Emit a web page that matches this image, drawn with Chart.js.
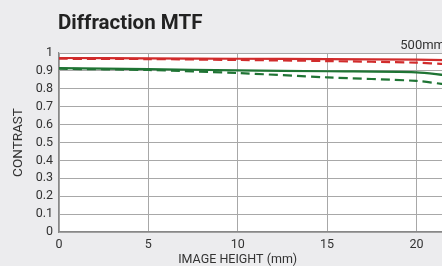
<!DOCTYPE html>
<html>
<head>
<meta charset="utf-8">
<script src="https://cdn.jsdelivr.net/npm/chart.js@4"></script>
<style>
  html, body { margin: 0; padding: 0; background: #ececee; overflow: hidden; }
  #wrap { width: 442px; height: 266px; overflow: hidden; position: relative; }
  canvas { display: block; }
</style>
</head>
<body>
<div id="wrap"><canvas id="chart_plot" width="460" height="266"></canvas></div>
<script>
// image height (mm)
const imageHeight = [0, 5, 10, 15, 20, 21.6];
const xTicks = [0, 5, 10, 15, 20];

// contrast values
const redSolid   = [0.972, 0.970, 0.968, 0.966, 0.963, 0.960];
const redDashed  = [0.968, 0.966, 0.961, 0.955, 0.946, 0.938];
const greenSolid = [0.916, 0.910, 0.903, 0.898, 0.892, 0.876];
const greenDashed= [0.912, 0.905, 0.888, 0.864, 0.844, 0.825];

const RED = '#d12c2c';
const GREEN = '#1f7434';

function pts(vals) {
    return vals.map(function(v, i) { return { x: imageHeight[i], y: v }; });
}

// white plot area + extra texts
const decor = {
    id: 'decor',
    beforeDraw: function(chart) {
        const ctx = chart.ctx, a = chart.chartArea;
        ctx.save();
        ctx.fillStyle = '#ffffff';
        ctx.fillRect(a.left, a.top, a.right - a.left, a.bottom - a.top);
        ctx.restore();
    },
    afterDraw: function(chart) {
        const ctx = chart.ctx, a = chart.chartArea;
        const xs = chart.scales.x;
        ctx.save();
        ctx.fillStyle = '#222';
        ctx.textBaseline = 'alphabetic';
        ctx.font = 'bold 20.5px Roboto';
        ctx.textAlign = 'left';
        ctx.fillText('Diffraction MTF', a.left - 1, 29);
        ctx.font = '13px Roboto';
        ctx.fillStyle = '#333';
        ctx.textAlign = 'right';
        ctx.fillText('500mm', a.right, 49);
        ctx.textAlign = 'center';
        ctx.font = '12.5px Roboto';
        ctx.fillText('IMAGE HEIGHT (mm)', xs.getPixelForValue(10), 263);
        ctx.restore();
    }
};

new Chart(document.getElementById('chart_plot'), {
    type: 'line',
    data: {
        datasets: [
            { data: pts(redDashed), borderColor: RED, borderDash: [9, 5], borderWidth: 2.2 },
            { data: pts(redSolid), borderColor: RED, borderWidth: 2.2 },
            { data: pts(greenDashed), borderColor: GREEN, borderDash: [9, 5], borderWidth: 2.2 },
            { data: pts(greenSolid), borderColor: GREEN, borderWidth: 2.2 }
        ]
    },
    options: {
        responsive: false,
        animation: false,
        events: [],
        elements: { point: { radius: 0 }, line: { tension: 0.3, fill: false } },
        layout: { padding: { top: 53, right: 15, bottom: 0, left: 0 } },
        plugins: { legend: { display: false }, tooltip: { enabled: false } },
        scales: {
            x: {
                type: 'linear',
                min: 0,
                max: 21.6,
                afterBuildTicks: function(scale) {
                    scale.ticks = xTicks.map(function(v) { return { value: v }; });
                },
                afterFit: function(scale) { scale.height = 34; },
                grid: { color: '#a8a8a8', drawTicks: false },
                border: { color: '#888', width: 1.2 },
                ticks: { color: '#333', padding: 5, font: { family: 'Roboto', size: 12.5 }, maxRotation: 0 }
            },
            y: {
                min: 0,
                max: 1,
                afterFit: function(scale) { scale.width = 59; },
                grid: { color: '#a8a8a8', drawTicks: false },
                border: { color: '#888', width: 1.2 },
                ticks: { stepSize: 0.1, autoSkip: false, color: '#333', padding: 6, font: { family: 'Roboto', size: 12.5 },
                    callback: function(v) { return String(Math.round(v * 10) / 10); } },
                title: { display: true, text: 'CONTRAST', color: '#333', font: { family: 'Roboto', size: 13.5 }, padding: { top: 11, bottom: 0 } }
            }
        }
    },
    plugins: [decor]
});
</script>
</body>
</html>
